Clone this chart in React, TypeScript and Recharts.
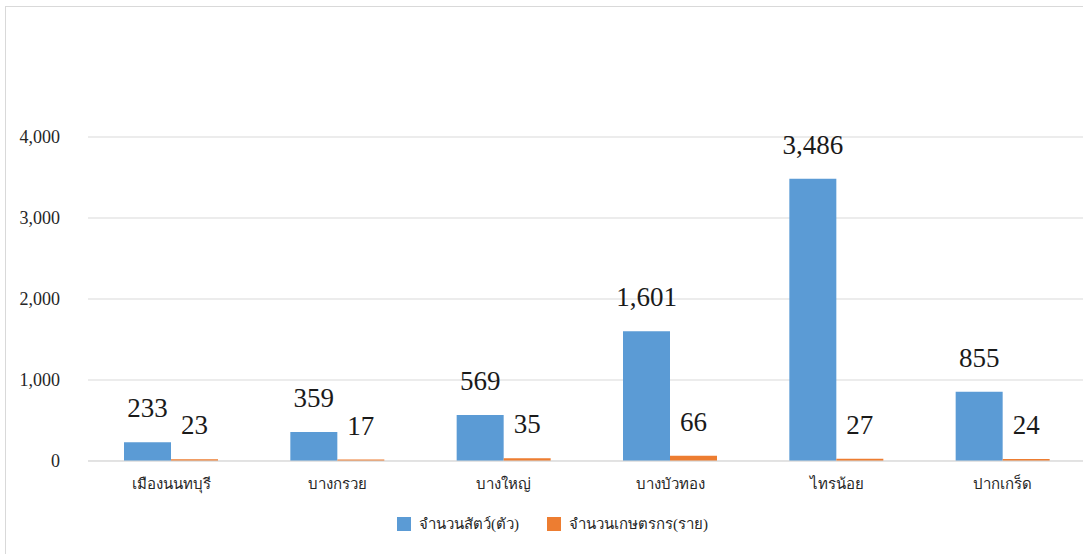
import { BarChart, Bar, XAxis, YAxis, CartesianGrid, LabelList } from 'recharts';

const districts = ['เมืองนนทบุรี', 'บางกรวย', 'บางใหญ่', 'บางบัวทอง', 'ไทรน้อย', 'ปากเกร็ด'];
const animals = [233, 359, 569, 1601, 3486, 855];
const farmers = [23, 17, 35, 66, 27, 24];
const yTicks = [0, 1000, 2000, 3000, 4000];

const BLUE = '#5B9BD5';
const ORANGE = '#ED7D31';
const SERIF = '"Liberation Serif", "Times New Roman", serif';

const data = districts.map((name, i) => ({ name, animals: animals[i], farmers: farmers[i] }));

const fmt = (v: number) => v.toLocaleString('en-US');

function YTick(props: any) {
  const { x, y, payload } = props;
  return (
    <text x={x} y={y} dy={6} textAnchor="end" style={{ fontFamily: SERIF, fontSize: 18, fill: '#262626' }}>
      {fmt(payload.value)}
    </text>
  );
}

function XTick(props: any) {
  const { x, y, payload } = props;
  return (
    <text x={x} y={y} dy={18} textAnchor="middle" style={{ fontFamily: SERIF, fontSize: 15, fill: '#262626' }}>
      {payload.value}
    </text>
  );
}

function ValueLabel(props: any) {
  const { x, y, width, value } = props;
  return (
    <text x={x + width / 2} y={y - 25} textAnchor="middle" style={{ fontFamily: SERIF, fontSize: 27, fill: '#1a1a1a' }}>
      {fmt(value)}
    </text>
  );
}

function LegendBox() {
  const items = [
    { label: 'จำนวนสัตว์(ตัว)', color: BLUE },
    { label: 'จำนวนเกษตรกร(ราย)', color: ORANGE },
  ];
  return (
    <div style={{ position: 'absolute', left: 397, top: 512, display: 'flex', alignItems: 'center', gap: 28 }}>
      {items.map((it) => (
        <div key={it.label} style={{ display: 'flex', alignItems: 'center', gap: 8 }}>
          <span style={{ width: 14, height: 14, background: it.color, display: 'inline-block' }} />
          <span style={{ fontFamily: SERIF, fontSize: 15, color: '#262626' }}>{it.label}</span>
        </div>
      ))}
    </div>
  );
}

export default function App() {
  return (
    <div style={{ position: 'absolute', left: 0, top: 0, width: 1083, height: 554, overflow: 'hidden', background: '#fff' }}>
      <div style={{ position: 'absolute', left: 5, top: 6, right: -10, bottom: -10, borderTop: '1.5px solid #D9D9D9', borderLeft: '1.5px solid #D9D9D9' }} />
      <BarChart
        width={1100}
        height={554}
        data={data}
        margin={{ top: 137, right: 14, bottom: 63, left: 8 }}
        barGap={0}
        barSize={47}
        style={{ position: 'absolute', left: 0, top: 0 }}
      >
        <CartesianGrid vertical={false} stroke="#D9D9D9" />
        <XAxis
          dataKey="name"
          axisLine={{ stroke: '#D9D9D9' }}
          tickLine={false}
          tickSize={0}
          tickMargin={10}
          tick={<XTick />}
          interval={0}
          height={30}
        />
        <YAxis
          width={80}
          domain={[0, 4000]}
          ticks={yTicks}
          axisLine={false}
          tickLine={false}
          tickSize={0}
          tickMargin={28}
          tick={<YTick />}
        />
        <Bar dataKey="animals" fill={BLUE} isAnimationActive={false}>
          <LabelList dataKey="animals" content={<ValueLabel />} />
        </Bar>
        <Bar dataKey="farmers" fill={ORANGE} isAnimationActive={false}>
          <LabelList dataKey="farmers" content={<ValueLabel />} />
        </Bar>
      </BarChart>
      <LegendBox />
    </div>
  );
}
